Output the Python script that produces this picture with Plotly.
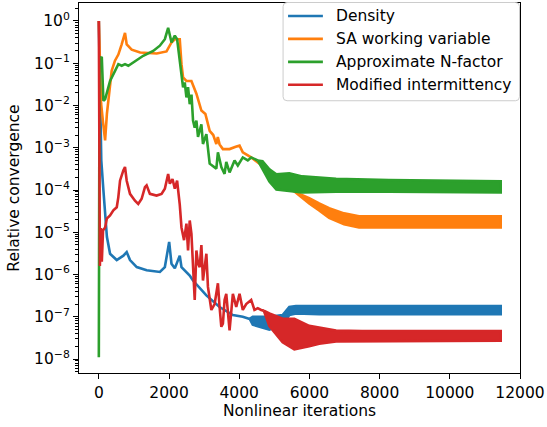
import plotly.graph_objects as go

# ---- convergence histories (relative residual vs nonlinear iteration) ----
# smooth / single-valued part of each history
density_iter = [0, 70, 130, 180, 230, 320, 510, 700, 794, 888, 1080, 1362, 1740, 1881,
                2004, 2070, 2165, 2306, 2355, 2590, 2684, 3064, 3441, 3819, 4100, 4300]
density_val = [1.0, 5.0e-4, 1.0e-4, 2.3e-5, 7.8e-6, 3.1e-6, 2.2e-6, 2.8e-6, 3.4e-6, 2.2e-6,
               1.5e-6, 1.26e-6, 1.15e-6, 1.5e-6, 5.9e-6, 1.8e-6, 1.4e-6, 2.8e-6, 1.5e-6,
               9.5e-7, 7.2e-7, 3.2e-7, 1.7e-7, 1.1e-7, 1.0e-7, 8.9e-8]

sa_iter = [0, 65, 120, 179, 230, 320, 366, 460, 556, 651, 746, 794, 936, 1177, 1650, 1929,
           2070, 2165, 2306, 2355, 2400, 2496, 2638, 2780, 2922, 3036, 3158, 3260, 3348,
           3390, 3440, 3535, 3725, 3900, 4009, 4102, 4341, 4578, 4860, 5143, 5427, 5600]
sa_val = [1.0, 1.1e-2, 4.0e-3, 1.5e-3, 6.3e-3, 2.7e-2, 6.6e-2, 0.115, 0.16, 0.28, 0.52,
          0.28, 0.21, 0.18, 0.17, 0.19, 0.31, 0.37, 0.37, 9.5e-2, 4.6e-2, 3.8e-2, 3.8e-2,
          1.9e-2, 7.6e-3, 6.3e-3, 2.5e-3, 2.0e-3, 1.23e-3, 1.8e-3, 1.2e-3, 9.3e-4, 9.3e-4,
          1.05e-3, 1.12e-3, 7.8e-4, 5.9e-4, 4.2e-4, 2.45e-4, 1.5e-4, 1.1e-4, 8.9e-5]

nf_iter = [0, 20, 85, 130, 179, 227, 320, 462, 556, 652, 746, 840, 982, 1265, 1549, 1739,
           1881, 1975, 2071, 2165, 2230, 2306, 2355, 2400, 2448, 2496, 2542, 2590, 2640,
           2684, 2732, 2780, 2826, 2922, 2967, 3064, 3158, 3348, 3393, 3490, 3583, 3631,
           3725, 3867, 3960, 4102, 4244, 4341, 4528]
nf_val = [1.1e-8, 0.14, 0.135, 1.3e-2, 1.4e-2, 1.9e-2, 3.8e-2, 6.6e-2, 9.5e-2, 8.7e-2,
          9.5e-2, 8.7e-2, 0.105, 0.15, 0.195, 0.26, 0.37, 0.69, 0.31, 0.45, 0.37, 0.115,
          4.6e-2, 2.7e-2, 3.5e-2, 1.55e-2, 2.7e-2, 1.07e-2, 1.8e-2, 4.4e-3, 3.0e-3, 4.4e-3,
          1.8e-3, 3.6e-3, 1.23e-3, 2.1e-3, 4.2e-4, 3.2e-4, 7.8e-4, 3.5e-4, 2.4e-4, 4.6e-4,
          2.6e-4, 5.0e-4, 3.8e-4, 5.9e-4, 5.0e-4, 5.9e-4, 5.0e-4]

mi_iter = [0, 30, 60, 85, 120, 179, 227, 320, 414, 511, 556, 604, 698, 746, 794, 888, 1030,
           1123, 1220, 1314, 1362, 1455, 1645, 1787, 1881, 1975, 2023, 2099, 2165, 2230,
           2306, 2355, 2428, 2496, 2542, 2590, 2638, 2684, 2732, 2780, 2826, 2874, 2922,
           2967, 3016, 3064, 3109, 3206, 3299, 3393, 3441, 3490, 3535, 3583, 3631, 3725,
           3819, 3915, 4009, 4102, 4199, 4341, 4434, 4528, 4624, 4700]
mi_val = [1.0, 1.6e-6, 1.26e-5, 2.0e-6, 1.1e-5, 1.3e-5, 2.1e-5, 2.5e-5, 3.3e-5, 3.9e-5,
          6.8e-5, 1.66e-4, 2.9e-4, 3.5e-4, 1.66e-4, 8.1e-5, 5.6e-5, 4.7e-5, 6.2e-5, 1.17e-4,
          1.29e-4, 8.1e-5, 7.4e-5, 8.1e-5, 1.07e-4, 2.4e-4, 1.41e-4, 1.82e-4, 1.07e-4,
          1.66e-4, 4.5e-5, 1.3e-5, 6.5e-6, 1.6e-5, 3.7e-6, 1.9e-5, 9.3e-6, 2.2e-6, 2.5e-7,
          3.7e-6, 1.8e-6, 1.5e-6, 5.0e-6, 7.2e-7, 1.5e-6, 3.1e-6, 5.1e-7, 1.45e-7, 2.0e-7,
          6.2e-7, 1.7e-7, 5.8e-8, 6.9e-8, 2.5e-7, 3.5e-7, 4.8e-8, 3.5e-7, 1.7e-7, 3.5e-7,
          1.45e-7, 2.0e-7, 2.5e-7, 1.45e-7, 1.6e-7, 1.45e-7, 1.4e-7]

# limit-cycle part: upper / lower envelope of the oscillating residual
density_band_iter = [4300, 4386, 4860, 5237, 5427, 5617, 6278, 8000, 11450]
density_band_hi = [8.9e-8, 1.0e-7, 1.0e-7, 1.1e-7, 1.7e-7, 1.8e-7, 1.8e-7, 1.8e-7, 1.8e-7]
density_band_lo = [8.9e-8, 6.5e-8, 5.0e-8, 6.5e-8, 1.1e-7, 1.2e-7, 1.15e-7, 1.15e-7, 1.15e-7]

sa_band_iter = [5600, 5994, 6278, 6562, 6988, 7413, 9000, 11450]
sa_band_hi = [8.9e-5, 6.4e-5, 4.8e-5, 3.7e-5, 2.8e-5, 2.4e-5, 2.4e-5, 2.4e-5]
sa_band_lo = [8.9e-5, 4.8e-5, 3.3e-5, 2.2e-5, 1.55e-5, 1.3e-5, 1.3e-5, 1.3e-5]

nf_band_iter = [4528, 4664, 4860, 5058, 5427, 5796, 6760, 8264, 11450]
nf_band_hi = [5.0e-4, 4.8e-4, 3.1e-4, 2.35e-4, 2.5e-4, 2.1e-4, 1.85e-4, 1.72e-4, 1.6e-4]
nf_band_lo = [5.0e-4, 3.0e-4, 1.6e-4, 1.03e-4, 9.3e-5, 8.7e-5, 9.1e-5, 9.1e-5, 8.7e-5]

mi_band_iter = [4700, 4860, 5237, 5570, 5994, 6278, 6760, 7500, 11450]
mi_band_hi = [1.4e-7, 1.2e-7, 9.0e-8, 9.0e-8, 6.1e-8, 5.5e-8, 4.7e-8, 4.6e-8, 4.6e-8]
mi_band_lo = [1.4e-7, 6.0e-8, 2.5e-8, 1.7e-8, 2.0e-8, 2.3e-8, 2.6e-8, 2.7e-8, 2.7e-8]

series = [
    ("Density", "#1f77b4", density_iter, density_val,
     density_band_iter, density_band_hi, density_band_lo),
    ("SA working variable", "#ff7f0e", sa_iter, sa_val,
     sa_band_iter, sa_band_hi, sa_band_lo),
    ("Approximate N-factor", "#2ca02c", nf_iter, nf_val,
     nf_band_iter, nf_band_hi, nf_band_lo),
    ("Modified intermittency", "#d62728", mi_iter, mi_val,
     mi_band_iter, mi_band_hi, mi_band_lo),
]

FONT = "DejaVu Sans"
FS = 15.5
LW = 2.6
W, H = 547, 427
ML, MR, MT, MB = 79, 25, 2, 54
PW, PH = W - ML - MR, H - MT - MB

fig = go.Figure()
for name, color, it, val, bit, bhi, blo in series:
    fig.add_trace(go.Scatter(x=it, y=val, mode="lines", name=name, legendgroup=name,
                             showlegend=False, line=dict(color=color, width=LW),
                             hoverinfo="skip"))
    fig.add_trace(go.Scatter(x=bit + bit[::-1], y=bhi + blo[::-1], mode="lines",
                             fill="toself", fillcolor=color, name=name, legendgroup=name,
                             showlegend=False, line=dict(color=color, width=LW),
                             hoverinfo="skip"))


def px_x(p):
    return (p - ML) / PW


def px_y(p):
    return (H - MB - p) / PH


# legend box (upper right, rounded frame, translucent white)
x0, x1, y0, y1, r = px_x(284), px_x(521.5), px_y(100), px_y(1.5), 4
rx, ry = r / PW, r / PH
path = (f"M {x0 + rx},{y1} L {x1 - rx},{y1} Q {x1},{y1} {x1},{y1 - ry} "
        f"L {x1},{y0 + ry} Q {x1},{y0} {x1 - rx},{y0} L {x0 + rx},{y0} "
        f"Q {x0},{y0} {x0},{y0 + ry} L {x0},{y1 - ry} Q {x0},{y1} {x0 + rx},{y1} Z")
shapes = [dict(type="path", xref="paper", yref="paper", path=path,
               fillcolor="rgba(255,255,255,0.8)", line=dict(color="#cccccc", width=1),
               layer="above")]
annotations = []
for i, (name, color, *_) in enumerate(series):
    yy = px_y(15 + 23 * i)
    shapes.append(dict(type="line", xref="paper", yref="paper", x0=px_x(289), x1=px_x(324),
                       y0=yy, y1=yy, line=dict(color=color, width=LW), layer="above"))
    annotations.append(dict(xref="paper", yref="paper", x=px_x(335), y=yy, text=name,
                            showarrow=False, xanchor="left", yanchor="middle",
                            font=dict(family=FONT, size=FS, color="black")))

decades = list(range(-8, 1))
major_vals = [10.0 ** d for d in decades]
major_text = ["10<sup>%s</sup>" % (str(d).replace("-", "\u2212")) for d in decades]
minor_vals = [m * 10.0 ** d for d in range(-9, 1) for m in range(2, 10)]

fig.update_layout(
    width=W, height=H,
    margin=dict(l=ML, r=MR, t=MT, b=MB),
    paper_bgcolor="white", plot_bgcolor="white",
    font=dict(family=FONT, size=FS, color="black"),
    showlegend=False,
    shapes=shapes, annotations=annotations,
)
fig.update_xaxes(
    range=[-565, 12000], showgrid=False, zeroline=False,
    showline=True, linecolor="black", linewidth=1.2, mirror=True,
    ticks="outside", ticklen=5, tickwidth=1.2, tickcolor="black",
    tickvals=[0, 2000, 4000, 6000, 8000, 10000, 12000],
    ticktext=["0", "2000", "4000", "6000", "8000", "10000", "12000"],
    tickfont=dict(family=FONT, size=FS),
    title=dict(text="Nonlinear iterations", standoff=4,
               font=dict(family=FONT, size=FS)),
)
fig.update_yaxes(
    type="log", range=[-8.33, 0.425], showgrid=False, zeroline=False,
    showline=True, linecolor="black", linewidth=1.2, mirror=True,
    ticks="outside", ticklen=5, tickwidth=1.2, tickcolor="black",
    tickvals=major_vals, ticktext=major_text,
    tickfont=dict(family=FONT, size=FS),
    minor=dict(tickvals=minor_vals, ticks="outside", ticklen=3, tickwidth=0.9,
               tickcolor="black", showgrid=False),
    title=dict(text="Relative convergence", standoff=10,
               font=dict(family=FONT, size=FS)),
)

fig.write_html("out.html")
